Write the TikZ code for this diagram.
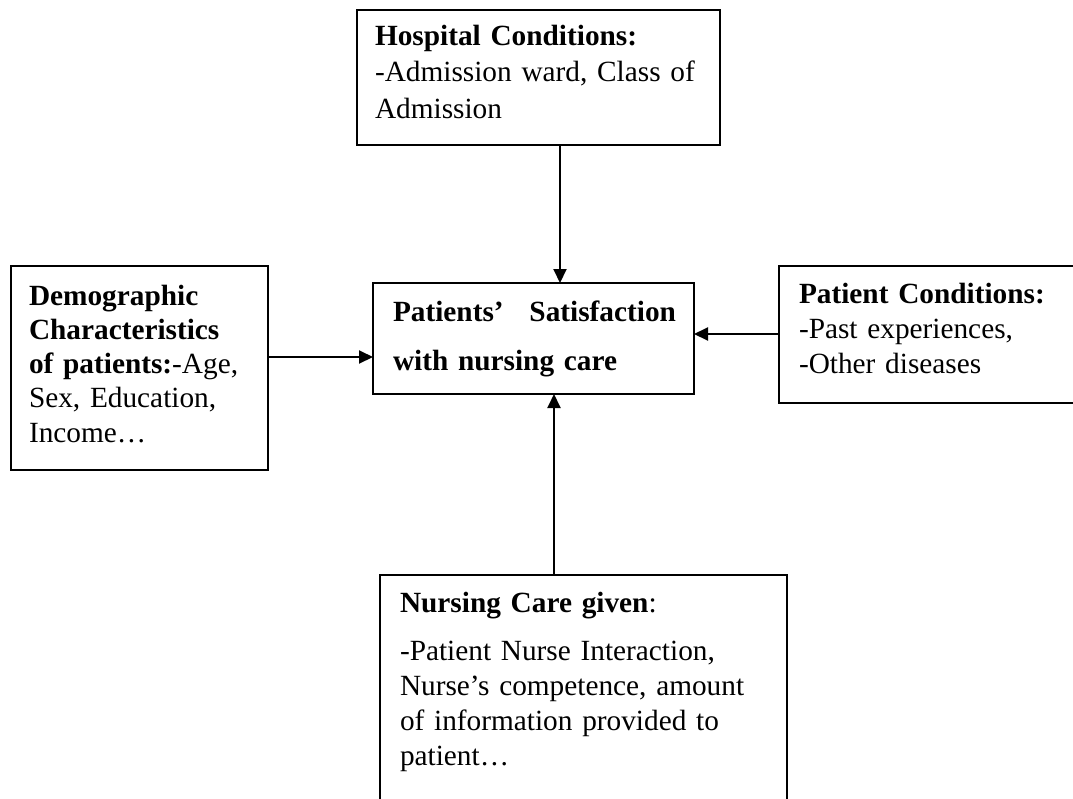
\documentclass[tikz,border=0pt]{standalone}
\usepackage{fontspec}
\setmainfont{Liberation Serif}
\usetikzlibrary{arrows.meta}
\begin{document}
\begin{tikzpicture}[x=1pt,y=-1pt,
  box/.style={draw=black, line width=2pt, rectangle, inner sep=0pt, outer sep=0pt, anchor=north west},
  txt/.style={anchor=base west, inner sep=0pt, outer sep=0pt, align=left, text width=#1},
  txt/.default=420pt,
  arr/.style={line width=2pt, -{Triangle[length=14pt,width=13pt]}}
]
\useasboundingbox (0,0) rectangle (1073,798);
\fill[white] (0,0) rectangle (1073,798);
% boxes
\node[box, minimum width=363pt, minimum height=135pt] (hosp) at (357,10) {};
\node[box, minimum width=257pt, minimum height=204pt] (demo) at (11,266) {};
\node[box, minimum width=321pt, minimum height=111pt] (sat) at (373,283) {};
\node[box, minimum width=311pt, minimum height=137pt] (pcond) at (779,266) {};
\node[box, minimum width=407pt, minimum height=240pt] (nurse) at (380,575) {};
% texts
\node[txt, font=\fontsize{29.3}{36.5}\selectfont] (hospt) at (375,45)
  {\textbf{Hospital Conditions:}\\-Admission ward, Class of\\Admission};
\node[txt, font=\fontsize{29.3}{34.3}\selectfont] (demot) at (29,305)
  {\textbf{Demographic}\\\textbf{Characteristics}\\\textbf{of patients:}-Age,\\Sex, Education,\\Income…};
\node[txt, font=\fontsize{29.3}{49}\selectfont] (satt) at (393,321)
  {\makebox[283pt][l]{\textbf{Patients’}\hfill\textbf{Satisfaction}}\\\textbf{with nursing care}};
\node[txt, font=\fontsize{29.3}{35}\selectfont] (pcondt) at (799,303)
  {\textbf{Patient Conditions:}\\-Past experiences,\\-Other diseases};
\node[txt, font=\fontsize{29.3}{35}\selectfont] (nurset) at (400,612)
  {\textbf{Nursing Care given}:\\[13pt]-Patient Nurse Interaction,\\Nurse’s competence, amount\\of information provided to\\patient…};
% connector guides
\coordinate (hx) at (560,0);
\coordinate (nx) at (554,0);
\coordinate (dy) at (0,357);
\coordinate (py) at (0,334);
% connectors
\draw[arr] (hosp.south -| hx) -- (sat.north -| hx);
\draw[arr] (demo.east |- dy) -- (sat.west |- dy);
\draw[arr] (pcond.west |- py) -- (sat.east |- py);
\draw[arr] (nurse.north -| nx) -- (sat.south -| nx);
\end{tikzpicture}
\end{document}
